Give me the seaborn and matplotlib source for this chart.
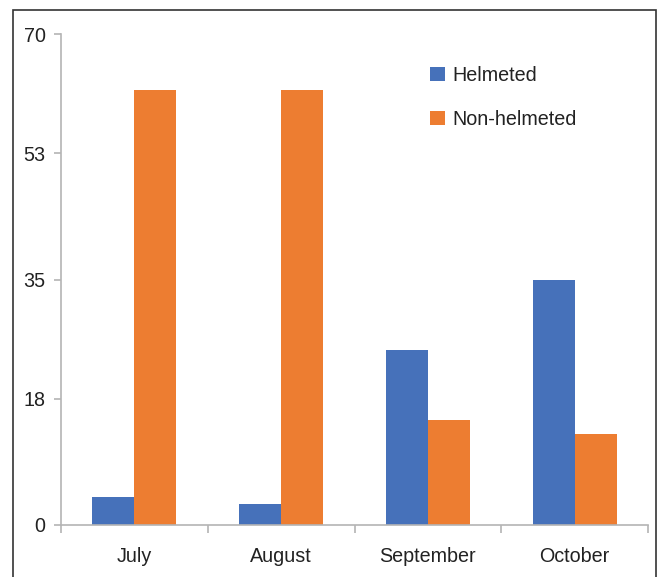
import matplotlib
matplotlib.use("Agg")
import matplotlib.pyplot as plt
import seaborn as sns
import pandas as pd
from matplotlib.patches import Rectangle

months = ["July", "August", "September", "October"]
helmeted = [4, 3, 25, 35]
non_helmeted = [62, 62, 15, 13]
series_names = ["Helmeted", "Non-helmeted"]
y_ticks = [0, 18, 35, 53, 70]

df = pd.DataFrame({
    "Month": months * 2,
    "Value": helmeted + non_helmeted,
    "Group": [series_names[0]] * len(months) + [series_names[1]] * len(months),
})

sns.set_style("white")
plt.rcParams['font.family'] = ['Liberation Sans', 'DejaVu Sans']

fig = plt.figure(figsize=(6.61, 5.77), dpi=100)
ax = fig.add_axes([61/661, 1-525/577, (648-61)/661, (525-34)/577])

sns.barplot(data=df, x="Month", y="Value", hue="Group", order=months,
            hue_order=series_names, palette=["#4671BA", "#ED7D31"],
            width=0.572, gap=0, saturation=1, ax=ax, linewidth=0, edgecolor="none")

ax.set_xlim(-0.5, len(months) - 0.5)
ax.set_ylim(0, 70)
ax.set_yticks(y_ticks)
ax.set_xlabel("")
ax.set_ylabel("")

axis_color = "#b4b4b4"
for s in ["top", "right"]:
    ax.spines[s].set_visible(False)
for s in ["left", "bottom"]:
    ax.spines[s].set_color(axis_color)
    ax.spines[s].set_linewidth(1.2)

fs = 14.2
ax.tick_params(axis="y", direction="out", length=5, width=1.2, color=axis_color,
               labelsize=fs, labelcolor="#222222", pad=6, left=True)
ax.set_xticks([i - 0.5 for i in range(len(months) + 1)])
ax.set_xticklabels([""] * (len(months) + 1))
ax.tick_params(axis="x", which="major", direction="out", length=6, width=1.2,
               color=axis_color, bottom=True)
ax.set_xticks(range(len(months)), minor=True)
ax.set_xticklabels(months, minor=True)
ax.tick_params(axis="x", which="minor", length=0, labelsize=fs,
               labelcolor="#222222", pad=16)

leg = ax.legend(loc="upper left", bbox_to_anchor=((430-61)/587, (525-66)/491),
                frameon=False, fontsize=fs, handlelength=0.75, handleheight=0.75,
                handletextpad=0.4, labelspacing=1.25, borderpad=0, borderaxespad=0)
for t in leg.get_texts():
    t.set_color("#222222")

fig.patches.append(Rectangle((13/661, -0.05), (656-13)/661, 1.05 - 10/577,
                             transform=fig.transFigure, fill=False,
                             edgecolor="#333333", linewidth=1.2))

fig.savefig("out.png", dpi=100, facecolor="white")
